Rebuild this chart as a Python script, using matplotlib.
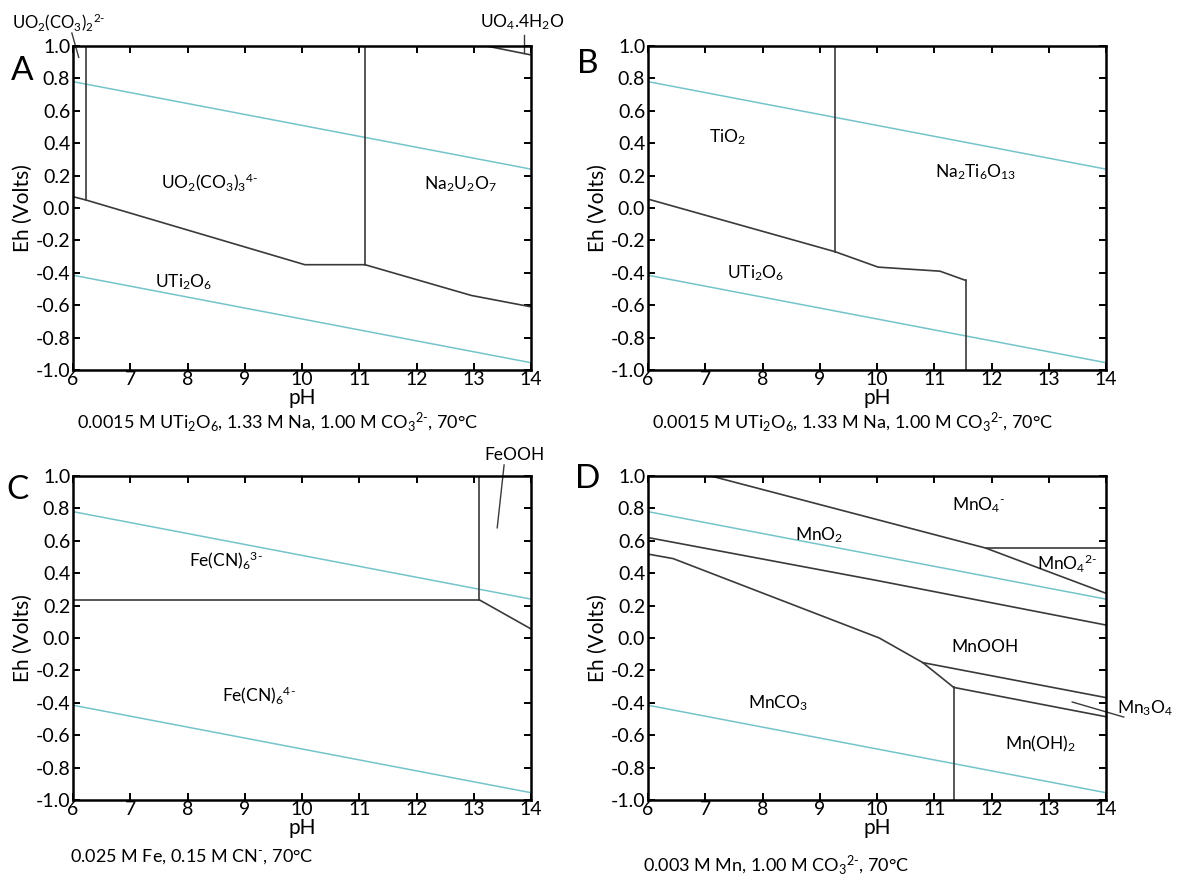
import matplotlib
matplotlib.use('Agg')
import matplotlib.pyplot as plt
import numpy as np

plt.rcParams['font.family'] = ['Lato', 'DejaVu Sans']
plt.rcParams['mathtext.fontset'] = 'custom'
plt.rcParams['mathtext.rm'] = 'Lato'
plt.rcParams['mathtext.it'] = 'Lato:italic'
plt.rcParams['mathtext.bf'] = 'Lato:bold'
plt.rcParams['axes.unicode_minus'] = False

# axis ticks (same on every panel)
ph_ticks = [6, 7, 8, 9, 10, 11, 12, 13, 14]
eh_ticks = [-1.0, -0.8, -0.6, -0.4, -0.2, 0.0, 0.2, 0.4, 0.6, 0.8, 1.0]
eh_labels = ['-1.0', '-0.8', '-0.6', '-0.4', '-0.2', '0.0', '0.2', '0.4', '0.6', '0.8', '1.0']

# water stability lines (same on every panel)
water_ph = [6, 14]
water_upper = [0.78, 0.24]
water_lower = [-0.415, -0.955]

# panel A: U system
a_lower_ph = [6.0, 6.22, 10.05, 11.1, 12.96, 14.0]
a_lower_eh = [0.07, 0.05, -0.35, -0.35, -0.54, -0.61]
a_vert1_ph = [6.22, 6.22]
a_vert1_eh = [1.0, 0.05]
a_vert2_ph = [11.1, 11.1]
a_vert2_eh = [1.0, -0.35]
a_uo4_ph = [13.22, 14.0]
a_uo4_eh = [1.0, 0.945]

# panel B: Ti system
b_lower_ph = [6.0, 9.27, 10.02, 11.1, 11.55]
b_lower_eh = [0.055, -0.27, -0.365, -0.39, -0.447]
b_vert1_ph = [9.27, 9.27]
b_vert1_eh = [1.0, -0.27]
b_vert2_ph = [11.55, 11.55]
b_vert2_eh = [-0.447, -1.0]

# panel C: Fe-CN system
c_horiz_ph = [6.0, 13.1]
c_horiz_eh = [0.235, 0.235]
c_vert_ph = [13.1, 13.1]
c_vert_eh = [1.0, 0.235]
c_slope_ph = [13.1, 14.0]
c_slope_eh = [0.235, 0.056]

# panel D: Mn system
d_mno4_ph = [7.1, 11.9, 14.0]
d_mno4_eh = [1.0, 0.555, 0.276]
d_mno42_ph = [11.9, 14.0]
d_mno42_eh = [0.557, 0.557]
d_mno2_ph = [6.0, 10.0, 14.0]
d_mno2_eh = [0.62, 0.355, 0.08]
d_mnco3_ph = [6.0, 6.44, 10.04, 10.8, 11.34]
d_mnco3_eh = [0.518, 0.49, 0.0, -0.152, -0.305]
d_mnooh_ph = [10.8, 14.0]
d_mnooh_eh = [-0.152, -0.368]
d_mn3o4_ph = [11.34, 14.0]
d_mn3o4_eh = [-0.305, -0.486]
d_vert_ph = [11.34, 11.34]
d_vert_eh = [-0.305, -1.0]

W, H = 1178, 881
fig = plt.figure(figsize=(W / 100, H / 100), dpi=100)

LINE = '#3a3a3a'
CYAN = '#74c4ca'
HY = r'\text{-}'  # hyphen-style charge sign


def make_ax(left, top, letter, lx, ly):
    ax = fig.add_axes([left / W, 1 - (top + 324) / H, 458 / W, 324 / H])
    ax.set_xlim(6, 14)
    ax.set_ylim(-1, 1)
    ax.set_xticks(ph_ticks)
    ax.set_yticks(eh_ticks)
    ax.set_yticklabels(eh_labels)
    ax.tick_params(direction='in', length=5, width=1.4, top=True, right=True,
                   labelsize=14, pad=2, colors='black')
    ax.tick_params(axis='x', pad=1)
    for s in ax.spines.values():
        s.set_linewidth(1.8)
    ax.set_xlabel('pH', fontsize=15, labelpad=0)
    ax.set_ylabel('Eh (Volts)', fontsize=15, labelpad=2)
    ax.plot(water_ph, water_upper, color=CYAN, lw=1.1)
    ax.plot(water_ph, water_lower, color=CYAN, lw=1.1)
    fig.text(lx / W, 1 - ly / H, letter, fontsize=24, ha='center', va='center')
    return ax


axA = make_ax(73, 46, 'A', 22, 71)
axB = make_ax(648, 46, 'B', 588, 64)
axC = make_ax(73, 476, 'C', 18, 490)
axD = make_ax(648, 476, 'D', 588, 479)

# ---- A
for xs, ys in [(a_lower_ph, a_lower_eh), (a_vert1_ph, a_vert1_eh),
               (a_vert2_ph, a_vert2_eh), (a_uo4_ph, a_uo4_eh)]:
    axA.plot(xs, ys, color=LINE, lw=1.2)
axA.text(8.38, 0.16, 'UO$_2$(CO$_3$)$_3$$^{4' + HY + '}$', fontsize=12.5, ha='center', va='center')
axA.text(12.76, 0.15, 'Na$_2$U$_2$O$_7$', fontsize=12.5, ha='center', va='center')
axA.text(7.94, -0.46, 'UTi$_2$O$_6$', fontsize=12.5, ha='center', va='center')
axA.text(5.75, 1.148, 'UO$_2$(CO$_3$)$_2$$^{2' + HY + '}$', fontsize=12, ha='center', va='center', clip_on=False)
axA.plot([5.98, 6.10], [1.08, 0.93], color=LINE, lw=1, clip_on=False)
axA.text(13.84, 1.148, 'UO$_4$.4H$_2$O', fontsize=12.5, ha='center', va='center', clip_on=False)
axA.plot([13.88, 13.88], [1.068, 0.957], color=LINE, lw=1, clip_on=False)

# ---- B
for xs, ys in [(b_lower_ph, b_lower_eh), (b_vert1_ph, b_vert1_eh), (b_vert2_ph, b_vert2_eh)]:
    axB.plot(xs, ys, color=LINE, lw=1.2)
axB.text(7.38, 0.44, 'TiO$_2$', fontsize=12.5, ha='center', va='center')
axB.text(11.73, 0.22, 'Na$_2$Ti$_6$O$_{13}$', fontsize=12.5, ha='center', va='center')
axB.text(7.89, -0.40, 'UTi$_2$O$_6$', fontsize=12.5, ha='center', va='center')

# ---- C
for xs, ys in [(c_horiz_ph, c_horiz_eh), (c_vert_ph, c_vert_eh), (c_slope_ph, c_slope_eh)]:
    axC.plot(xs, ys, color=LINE, lw=1.2)
axC.text(8.67, 0.48, 'Fe(CN)$_6$$^{3' + HY + '}$', fontsize=12.5, ha='center', va='center')
axC.text(9.25, -0.35, 'Fe(CN)$_6$$^{4' + HY + '}$', fontsize=12.5, ha='center', va='center')
axC.text(13.72, 1.13, 'FeOOH', fontsize=12.5, ha='center', va='center', clip_on=False)
axC.plot([13.53, 13.41], [1.068, 0.68], color=LINE, lw=1, clip_on=False)

# ---- D
for xs, ys in [(d_mno4_ph, d_mno4_eh), (d_mno42_ph, d_mno42_eh), (d_mno2_ph, d_mno2_eh),
               (d_mnco3_ph, d_mnco3_eh), (d_mnooh_ph, d_mnooh_eh), (d_mn3o4_ph, d_mn3o4_eh),
               (d_vert_ph, d_vert_eh)]:
    axD.plot(xs, ys, color=LINE, lw=1.2)
axD.text(11.78, 0.82, 'MnO$_4$$^{' + HY + '}$', fontsize=12.5, ha='center', va='center')
axD.text(8.99, 0.636, 'MnO$_2$', fontsize=12.5, ha='center', va='center')
axD.text(13.32, 0.46, 'MnO$_4$$^{2' + HY + '}$', fontsize=12.5, ha='center', va='center')
axD.text(11.89, -0.055, 'MnOOH', fontsize=12.5, ha='center', va='center')
axD.text(8.27, -0.40, 'MnCO$_3$', fontsize=12.5, ha='center', va='center')
axD.text(12.86, -0.65, 'Mn(OH)$_2$', fontsize=12.5, ha='center', va='center')
axD.text(14.19, -0.432, 'Mn$_3$O$_4$', fontsize=12.5, ha='left', va='center', clip_on=False)
axD.plot([13.41, 14.31], [-0.395, -0.488], color=LINE, lw=1, clip_on=False)

# subtitles under each panel
sub_u = '0.0015 M UTi$_2$O$_6$, 1.33 M Na, 1.00 M CO$_3$$^{2' + HY + '}$, 70°C'
fig.text(77 / W, 1 - 422 / H, sub_u, fontsize=13, ha='left', va='center')
fig.text(652 / W, 1 - 422 / H, sub_u, fontsize=13, ha='left', va='center')
fig.text(70 / W, 1 - 857 / H, '0.025 M Fe, 0.15 M CN$^{' + HY + '}$, 70°C',
         fontsize=13, ha='left', va='center')
fig.text(643 / W, 1 - 865 / H, '0.003 M Mn, 1.00 M CO$_3$$^{2' + HY + '}$, 70°C',
         fontsize=13, ha='left', va='center')

fig.savefig('out.png', dpi=100, facecolor='white')
